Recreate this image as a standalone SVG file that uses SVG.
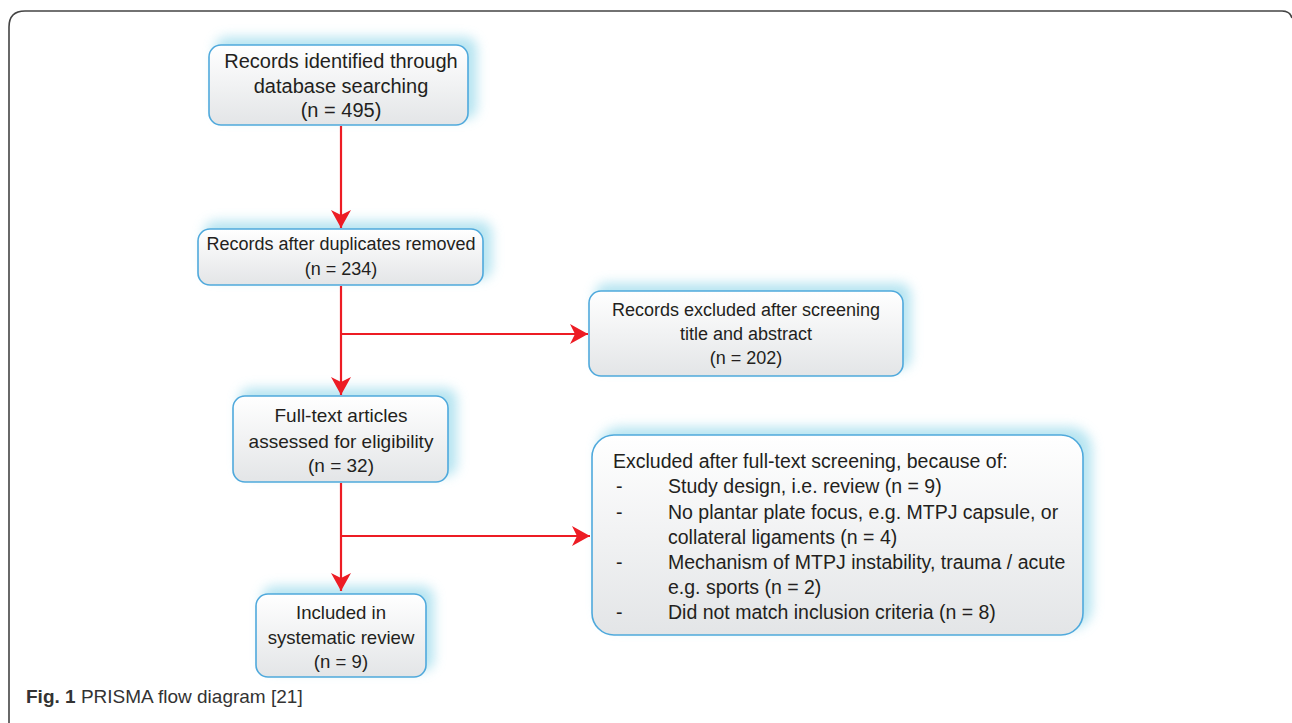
<svg xmlns="http://www.w3.org/2000/svg" width="1292" height="723" viewBox="0 0 1292 723">
<defs>
<linearGradient id="boxfill" x1="0" y1="0" x2="0" y2="1">
<stop offset="0" stop-color="#ffffff"/>
<stop offset="1" stop-color="#e3e5e7"/>
</linearGradient>
<filter id="glow" x="-20%" y="-40%" width="140%" height="180%">
<feGaussianBlur stdDeviation="6"/>
</filter>
<marker id="arr" markerWidth="20" markerHeight="20" refX="18" refY="10" orient="auto" markerUnits="userSpaceOnUse">
<path d="M0,0 L18,10 L0,20 L5,10 Z" fill="#ed1c24"/>
</marker>
<style>
.box{fill:url(#boxfill);stroke:#4fa9dc;stroke-width:1.6}
.shadow{fill:#9fdcec;opacity:0.75}
.t{font-family:"Liberation Sans",Arial,sans-serif;font-size:19.5px;fill:#231f20}
.c{text-anchor:middle}
.conn{stroke:#ed1c24;stroke-width:2.2;fill:none}
.cap{font-family:"Liberation Sans",Arial,sans-serif;font-size:19px;fill:#333}
</style>
</defs>
<path d="M9,723 L9,27 Q9,11 25,11 L1282,11 Q1290,11 1292,18" fill="none" stroke="#444" stroke-width="1.6"/>

<g id="n1">
<rect class="shadow" x="215" y="37" width="262" height="82" rx="12" filter="url(#glow)"/>
<rect class="box" x="209" y="45" width="259" height="80" rx="12"/>
<text class="t c" x="341" y="68" style="font-size:20px">Records identified through</text>
<text class="t c" x="341" y="93" style="font-size:20px">database searching</text>
<text class="t c" x="341" y="117" style="font-size:20px">(n = 495)</text>
</g>
<g id="n2">
<rect class="shadow" x="204" y="221" width="288" height="58" rx="12" filter="url(#glow)"/>
<rect class="box" x="198" y="229" width="285" height="56" rx="12"/>
<text class="t c" x="341" y="250" style="font-size:18px">Records after duplicates removed</text>
<text class="t c" x="341" y="275" style="font-size:18px">(n = 234)</text>
</g>
<g id="n3">
<rect class="shadow" x="595" y="283" width="316" height="86" rx="12" filter="url(#glow)"/>
<rect class="box" x="589" y="291" width="314" height="85" rx="12"/>
<text class="t c" x="746" y="316" style="font-size:18px">Records excluded after screening</text>
<text class="t c" x="746" y="340" style="font-size:18px">title and abstract</text>
<text class="t c" x="746" y="364" style="font-size:18px">(n = 202)</text>
</g>
<g id="n4">
<rect class="shadow" x="239" y="388" width="218" height="88" rx="12" filter="url(#glow)"/>
<rect class="box" x="233" y="396" width="215" height="86" rx="12"/>
<text class="t c" x="341" y="422" style="font-size:19px">Full-text articles</text>
<text class="t c" x="341" y="448" style="font-size:19px">assessed for eligibility</text>
<text class="t c" x="341" y="472" style="font-size:19px">(n = 32)</text>
</g>
<g id="n5">
<rect class="shadow" x="262" y="586" width="172" height="85" rx="12" filter="url(#glow)"/>
<rect class="box" x="256" y="594" width="170" height="83" rx="12"/>
<text class="t c" x="341" y="619" style="font-size:18.6px">Included in</text>
<text class="t c" x="341" y="644" style="font-size:18.6px">systematic review</text>
<text class="t c" x="341" y="668" style="font-size:18.6px">(n = 9)</text>
</g>
<g id="n6">
<rect class="shadow" x="598" y="427" width="494" height="202" rx="22" filter="url(#glow)"/>
<rect class="box" x="592" y="435" width="491" height="200" rx="22"/>
<text class="t" x="613" y="468">Excluded after full-text screening, because of:</text>
<text class="t" x="616" y="493">-</text><text class="t" x="668" y="493">Study design, i.e. review (n = 9)</text>
<text class="t" x="616" y="519">-</text><text class="t" x="668" y="519">No plantar plate focus, e.g. MTPJ capsule, or</text>
<text class="t" x="668" y="544">collateral ligaments (n = 4)</text>
<text class="t" x="616" y="569">-</text><text class="t" x="668" y="569">Mechanism of MTPJ instability, trauma / acute</text>
<text class="t" x="668" y="594">e.g. sports (n = 2)</text>
<text class="t" x="616" y="619">-</text><text class="t" x="668" y="619">Did not match inclusion criteria (n = 8)</text>
</g>

<g id="connectors">
<line class="conn" x1="341" y1="126" x2="341" y2="228" marker-end="url(#arr)"/>
<line class="conn" x1="341" y1="286" x2="341" y2="395" marker-end="url(#arr)"/>
<line class="conn" x1="341" y1="334" x2="588" y2="334" marker-end="url(#arr)"/>
<line class="conn" x1="341" y1="483" x2="341" y2="591" marker-end="url(#arr)"/>
<line class="conn" x1="341" y1="536" x2="590" y2="536" marker-end="url(#arr)"/>
</g>

<text class="cap" x="26" y="703"><tspan font-weight="bold">Fig. 1</tspan> PRISMA flow diagram [21]</text>
</svg>
